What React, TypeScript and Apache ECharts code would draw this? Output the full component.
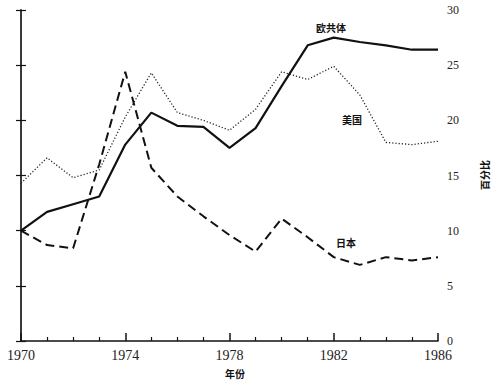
import React, { useEffect, useRef } from "react";
import * as echarts from "echarts";

const years = [1970, 1971, 1972, 1973, 1974, 1975, 1976, 1977, 1978, 1979, 1980, 1981, 1982, 1983, 1984, 1985, 1986];
const ecData = [10.0, 11.7, 12.4, 13.1, 17.8, 20.7, 19.5, 19.4, 17.5, 19.3, 23.1, 26.8, 27.5, 27.1, 26.8, 26.4, 26.4];
const usData = [14.3, 16.6, 14.8, 15.5, 20.3, 24.3, 20.7, 20.0, 19.1, 21.0, 24.4, 23.7, 24.9, 22.3, 18.0, 17.8, 18.1];
const jpData = [10.0, 8.7, 8.4, 16.0, 24.4, 15.7, 13.1, 11.3, 9.6, 8.1, 11.1, 9.4, 7.6, 6.9, 7.6, 7.3, 7.6];
const seriesNames = ["欧共体", "美国", "日本"];
const xAxisTitle = "年份";
const yAxisTitle = "百分比";
const baseYear = years[0];

const serif = "Liberation Serif";
const cjk = "Noto Sans CJK SC";

export default function App() {
  const ref = useRef<HTMLDivElement>(null);
  useEffect(() => {
    if (!ref.current) return;
    const chart = echarts.init(ref.current, undefined, { renderer: "svg" });
    const toPts = (arr: number[]) => years.map((y, i) => [y - baseYear, arr[i]]);
    const labelStyle = { fontFamily: cjk, fontSize: 10, fontWeight: "bold", fill: "#111", align: "center", verticalAlign: "middle" };
    chart.setOption({
      animation: false,
      backgroundColor: "#fff",
      grid: { left: 21, right: 61, top: 10, bottom: 44 },
      xAxis: {
        type: "value",
        min: 0,
        max: 16,
        interval: 4,
        axisLine: { show: true, lineStyle: { color: "#111", width: 1.5 } },
        axisTick: { show: true, inside: true, length: 8, lineStyle: { color: "#111", width: 1.5 } },
        minorTick: { show: true, splitNumber: 4, length: 4, lineStyle: { color: "#111", width: 1.2 } },
        splitLine: { show: false },
        axisLabel: {
          formatter: (v: number) => String(v + baseYear),
          margin: 7,
          color: "#222",
          fontFamily: serif,
          fontSize: 14,
        },
      },
      yAxis: [
        {
          type: "value",
          position: "right",
          min: 0,
          max: 30,
          interval: 5,
          axisLine: { show: true, lineStyle: { color: "#111", width: 1.5 } },
          axisTick: { show: true, inside: true, length: 5, lineStyle: { color: "#111", width: 1.2 } },
          splitLine: { show: false },
          axisLabel: { margin: 9, color: "#222", fontFamily: serif, fontSize: 12 },
        },
        {
          type: "value",
          position: "left",
          min: 0,
          max: 30,
          interval: 5,
          axisLine: { show: true, lineStyle: { color: "#333", width: 1.5 } },
          axisTick: { show: true, inside: true, length: 5, lineStyle: { color: "#111", width: 1.2 } },
          splitLine: { show: false },
          axisLabel: { show: false },
        },
      ],
      series: [
        {
          name: seriesNames[0],
          type: "line",
          yAxisIndex: 0,
          data: toPts(ecData),
          showSymbol: false,
          lineStyle: { color: "#111", width: 2.2, type: "solid" },
        },
        {
          name: seriesNames[1],
          type: "line",
          yAxisIndex: 0,
          data: toPts(usData),
          showSymbol: false,
          lineStyle: { color: "#222", width: 1.3, type: [1.2, 2] },
        },
        {
          name: seriesNames[2],
          type: "line",
          yAxisIndex: 0,
          data: toPts(jpData),
          showSymbol: false,
          lineStyle: { color: "#111", width: 2, type: [9, 5] },
        },
      ],
      graphic: [
        { type: "text", x: 331, y: 27, style: { ...labelStyle, text: seriesNames[0] } },
        { type: "text", x: 352, y: 119, style: { ...labelStyle, text: seriesNames[1] } },
        { type: "text", x: 346, y: 242, style: { ...labelStyle, text: seriesNames[2] } },
        { type: "text", x: 235, y: 373, style: { ...labelStyle, text: xAxisTitle } },
        { type: "text", x: 484, y: 175, rotation: Math.PI / 2, style: { ...labelStyle, text: yAxisTitle } },
      ],
    });
    return () => chart.dispose();
  }, []);
  return <div ref={ref} style={{ position: "fixed", left: 0, top: 0, width: 499, height: 385 }} />;
}
